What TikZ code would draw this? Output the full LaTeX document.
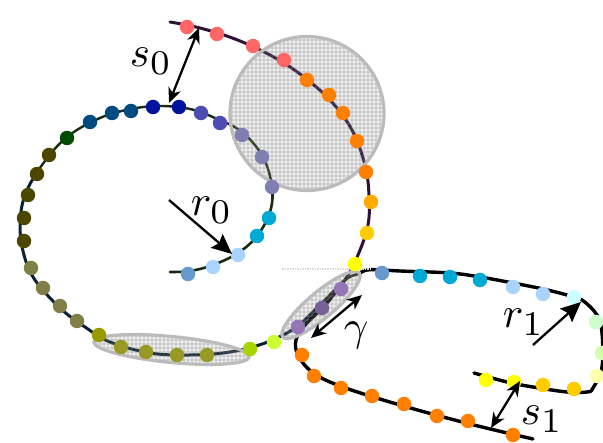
\documentclass[tikz,border=0pt]{standalone}
\usetikzlibrary{arrows.meta}
\definecolor{cRed}{HTML}{FF6666}
\definecolor{cOrange}{HTML}{FF8000}
\definecolor{cAmber}{HTML}{FFAA00}
\definecolor{cGold}{HTML}{FFCC00}
\definecolor{cYellow}{HTML}{FFFF00}
\definecolor{cPurple}{HTML}{9575B5}
\definecolor{cPurpleD}{HTML}{7A6096}
\definecolor{cLime}{HTML}{CCFF33}
\definecolor{cLimeD}{HTML}{A6D600}
\definecolor{cOlive}{HTML}{999926}
\definecolor{cOliveB}{HTML}{999900}
\definecolor{cOliveG}{HTML}{7F7F47}
\definecolor{cDark}{HTML}{4C4700}
\definecolor{cGreen}{HTML}{004C00}
\definecolor{cTeal}{HTML}{004C80}
\definecolor{cNavy}{HTML}{00129E}
\definecolor{cIndigo}{HTML}{4C4CB2}
\definecolor{cSlate}{HTML}{7F7FB2}
\definecolor{cCyan}{HTML}{00AAD4}
\definecolor{cSky}{HTML}{AAD4FF}
\definecolor{cSteel}{HTML}{6699CC}
\definecolor{cIce}{HTML}{CCFFFF}
\definecolor{cMint}{HTML}{CCFFCC}
\definecolor{cPale}{HTML}{D4FFAA}
\definecolor{cCream}{HTML}{FFFFAA}
\definecolor{cLineA}{HTML}{2E1038}
\definecolor{cLineG}{HTML}{1A2A10}
\definecolor{cLineN}{HTML}{0A2233}
\definecolor{cRing}{HTML}{BBBBBB}
\tikzset{
  bead/.style={circle,inner sep=0pt,minimum size=14.5pt},
  curveline/.style={line cap=round,line join=round},
  ring/.style={draw=cRing,line width=3.2pt},
  dim/.style={line width=2.3pt,{Stealth[length=15pt,width=13pt,inset=4.5pt]}-{Stealth[length=15pt,width=13pt,inset=4.5pt]}},
  radius arrow/.style={line width=2.3pt,-{Stealth[length=20pt,width=18pt,inset=3pt]}},
  lab/.style={anchor=base west,inner sep=0pt,scale=4.3}
}
\newcommand{\subdigit}[1]{_{\scalebox{1.15}{$\scriptstyle #1$}}}
\newcommand{\curveA}{plot[smooth,tension=0.6] coordinates {(170,22)(200,28)(235,39)(270,55)(300,74)(330,100)(352,130)(365,165)(369,195)(368,225)(358,255)(345,280)(325,305)(305,325)(296,340)(298,355)(312,372)(340,386)(400,405)(470,424)(533,439)}}
\newcommand{\curveB}{plot[smooth,tension=0.6] coordinates {(170,272)(190,271)(213,265)(238,253)(257,236)(270,212)(272,187)(263,157)(242,132)(215,118)(190,109)(160,106)(131,109)(100,118)(67,137)(42,165)(25,195)(20,225)(24,255)(35,280)(60,308)(85,327)(110,342)(150,353)(190,355)(230,352)(265,343)(295,328)(320,305)(345,280)(358,274)(367,270)(382,270)(400,271)(450,273)(480,277)(513,283)(543,289)(567,295)(582,300)(597,315)(602,333)(602,367)(593,388)(587,392)(567,392)(533,387)(507,382)(474,373)}}
\newcommand{\texturepatch}[1]{%
  \begin{scope}
    \clip #1;
    \fill[gray,fill opacity=0.13] (0,0) rectangle (603,443);
    \foreach \k in {0,4,...,603} {\draw[gray,opacity=0.2,line width=1.3pt] (\k,0) -- (\k,443);}
    \foreach \k in {0,4,...,443} {\draw[gray,opacity=0.2,line width=1.3pt] (0,\k) -- (603,\k);}
  \end{scope}}
\begin{document}
\begin{tikzpicture}[x=1pt,y=-1pt]
\useasboundingbox (0,0) rectangle (603,443);
% curves
\begin{scope}\clip (0,0) rectangle (603,300);
  \draw[curveline,cLineA,line width=3pt] \curveA;
\end{scope}
\begin{scope}\clip (0,300) rectangle (603,443);
  \draw[curveline,black,line width=3.4pt] \curveA;
\end{scope}
\begin{scope}\clip (0,0) rectangle (360,180);
  \draw[curveline,cLineG,line width=2.4pt] \curveB;
\end{scope}
\begin{scope}\clip (150,180) rectangle (360,300);
  \draw[curveline,cLineG,line width=2.6pt] \curveB;
\end{scope}
\begin{scope}\clip (0,180) rectangle (150,443) (150,300) rectangle (360,443);
  \draw[curveline,cLineN,line width=3pt] \curveB;
\end{scope}
\begin{scope}\clip (360,0) rectangle (603,443);
  \draw[curveline,black,line width=3.4pt] \curveB;
\end{scope}
% stub
\draw[gray!30,line width=1.5pt,dash pattern=on 1.5pt off 1pt] (282,269) -- (370,269);
% shaded regions
\texturepatch{(307,113.5) circle (77)}
\draw[ring] (307,113.5) circle (77);
\texturepatch{[rotate around={-5.5:(171.5,349.5)}] (171.5,349.5) ellipse (78 and 13)}
\draw[ring,rotate around={-5.5:(171.5,349.5)}] (171.5,349.5) ellipse (78 and 13);
\texturepatch{[rotate around={40:(321,305)}] (321,305) ellipse (50 and 13)}
\draw[ring,rotate around={40:(321,305)}] (321,305) ellipse (50 and 13);
% beads
\foreach \n/\px/\py/\c in {
 a1/187/27/cRed,a2/217/34/cRed,a3/253/46/cRed,a4/284/60/cRed,
 a5/307/80/cOrange,a6/329/95/cOrange,a7/343/113/cOrange,a8/357/141/cOrange,a9/366/172/cOrange,
 a10/371/202/cAmber,a11/367/233/cGold,a12/355/264/cYellow,
 a13/341/289/cPurple,a14/322/308/cPurpleD,a15/298/327/cPurple,
 a16/302/355/cOrange,a17/314/376/cOrange,a18/341/388/cOrange,a19/372/396/cOrange,a20/404/404/cOrange,a21/437/416/cOrange,a22/468/421/cOrange,a23/513/435/cOrange,
 b1/188/274/cSteel,b2/213/267/cSky,b3/238/255/cSky,b4/257/236/cCyan,b5/269/218/cCyan,
 b6/272/187/cSlate,b7/262/157/cSlate,b8/242/135/cSlate,b9/220/123/cIndigo,b10/201/113/cIndigo,
 b11/179/107/cNavy,b12/153/107/cNavy,b13/131/111/cTeal,b14/112/113/cTeal,b15/90/122/cTeal,
 b16/67/138/cGreen,b17/49/155/cDark,b18/37/174/cDark,b19/28/195/cDark,b20/24/218/cDark,b21/24/241/cDark,
 b22/31/268/cOliveG,b23/43/288/cOliveG,b24/60/306/cOliveG,b25/77/321/cOliveG,
 b26/99/335/cOliveB,b27/121/347/cOlive,b28/146/352/cOlive,b29/177/355/cOlive,b30/207/355/cOlive,
 b31/250/349/cLimeD,b32/274/342/cLime,
 b33/382/273/cSteel,b34/420/276/cCyan,b35/450/277/cCyan,b36/480/280/cCyan,b37/513/287/cSky,b38/543/294/cSky,
 b39/574/297/cIce,b40/596/322/cMint,b41/602/353/cPale,b42/597/376/cCream,b43/574/389/cGold,b44/543/385/cGold,b45/514/382/cYellow,b46/486/380/cYellow}
 {\node[bead,fill=\c] (\n) at (\px,\py) {};}
% arrow end points
\coordinate (s0a) at (199,28);
\coordinate (s0b) at (169,103);
\coordinate (r0a) at (169,200);
\coordinate (r0b) at (232,254);
\coordinate (r1a) at (533,345);
\coordinate (r1b) at (581,302);
\coordinate (ga) at (311,338);
\coordinate (gb) at (362,295);
\coordinate (s1a) at (491,428);
\coordinate (s1b) at (520,381);
\draw[dim] (s0a) -- (s0b);
\draw[radius arrow] (r0a) -- (r0b);
\draw[radius arrow] (r1a) -- (r1b);
\draw[dim] (ga) -- (gb);
\draw[dim] (s1a) -- (s1b);
% labels
\node[lab] (ls0) at (129,67) {$s\subdigit{0}$};
\node[lab] (lr0) at (190,216) {$r\subdigit{0}$};
\node[lab] (lr1) at (502,328) {$r\subdigit{1}$};
\node[lab] (lg) at (343,341) {$\gamma$};
\node[lab] (ls1) at (520,425) {$s\subdigit{1}$};
\end{tikzpicture}
\end{document}
